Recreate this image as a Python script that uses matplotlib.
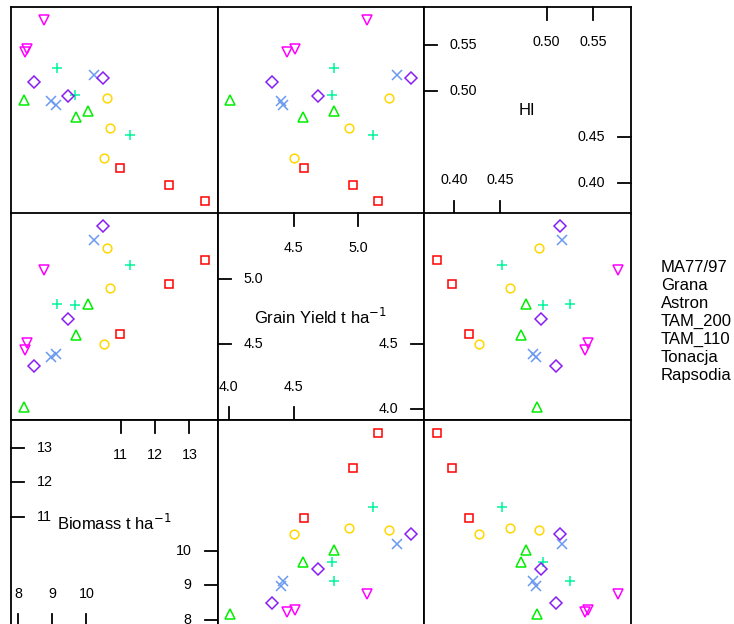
import matplotlib
matplotlib.use("Agg")
import matplotlib.pyplot as plt
import matplotlib.transforms as mtransforms
import numpy as np

plt.rcParams['font.family'] = ['Liberation Sans', 'DejaVu Sans']

cultivars = ["MA77/97", "Grana", "Astron", "TAM_200", "TAM_110", "Tonacja", "Rapsodia"]
colors = ["#FF0000", "#FFD700", "#00F59A", "#6A9AF0", "#8A1EF5", "#00EE00", "#FF00FF"]
markers = ["s", "o", "+", "x", "D", "^", "v"]

biomass = {
    "MA77/97": [13.45, 12.41, 10.97],
    "Grana": [10.61, 10.68, 10.51],
    "Astron": [11.28, 9.13, 9.67],
    "TAM_200": [10.21, 8.98, 9.12],
    "TAM_110": [10.49, 9.47, 8.48],
    "Tonacja": [10.04, 9.69, 8.17],
    "Rapsodia": [8.76, 8.28, 8.22],
}
grain_yield = {
    "MA77/97": [5.15, 4.96, 4.58],
    "Grana": [5.24, 4.93, 4.50],
    "Astron": [5.11, 4.81, 4.80],
    "TAM_200": [5.30, 4.40, 4.42],
    "TAM_110": [5.41, 4.69, 4.33],
    "Tonacja": [4.81, 4.57, 4.01],
    "Rapsodia": [5.07, 4.51, 4.45],
}
hi = {
    "MA77/97": [0.381, 0.398, 0.416],
    "Grana": [0.492, 0.460, 0.427],
    "Astron": [0.452, 0.525, 0.496],
    "TAM_200": [0.517, 0.489, 0.485],
    "TAM_110": [0.514, 0.494, 0.510],
    "Tonacja": [0.478, 0.472, 0.490],
    "Rapsodia": [0.577, 0.545, 0.542],
}

var_names = ["Biomass t ha$^{-1}$", "Grain Yield t ha$^{-1}$", "HI"]
var_data = [biomass, grain_yield, hi]
ticks_low = [["8", "9", "10"], ["4.0", "4.5"], ["0.40", "0.45"]]
ticks_high = [["11", "12", "13"], ["4.5", "5.0"], ["0.50", "0.55"]]

W, H = 734, 624
fig = plt.figure(figsize=(W / 100, H / 100), dpi=100)

left_px, top_px, size_px = 11, 7, 206.5


def limits(d):
    vals = np.concatenate([np.asarray(v) for v in d.values()])
    lo, hi_ = vals.min(), vals.max()
    pad = 0.07 * (hi_ - lo)
    return lo - pad, hi_ + pad


lims = [limits(d) for d in var_data]

for r in range(3):          # r=0 top row
    yv = 2 - r              # top row is HI
    for c in range(3):
        xv = c
        x0 = (left_px + c * size_px) / W
        y0 = 1 - (top_px + (r + 1) * size_px) / H
        ax = fig.add_axes([x0, y0, size_px / W, size_px / H])
        ax.set_xlim(*lims[xv])
        ax.set_ylim(*lims[yv])
        ax.set_xticks([])
        ax.set_yticks([])
        for sp in ax.spines.values():
            sp.set_linewidth(1.3)
        if xv == yv:
            ax.text(0.5, 0.5, var_names[xv], transform=ax.transAxes,
                    ha='center', va='center', fontsize=12)
            tl = 13 / size_px
            off = 26 / size_px
            offt = 28 / size_px
            bx = mtransforms.blended_transform_factory(ax.transData, ax.transAxes)
            by = mtransforms.blended_transform_factory(ax.transAxes, ax.transData)
            fs = 10.3
            for lab in ticks_low[xv]:
                v = float(lab)
                ax.plot([v, v], [0, tl], transform=bx, color='black', lw=1.3, clip_on=False)
                ax.text(v, off, lab, transform=bx, ha='center', va='bottom', fontsize=fs)
                ax.plot([1 - tl, 1], [v, v], transform=by, color='black', lw=1.3, clip_on=False)
                ax.text(1 - off, v, lab, transform=by, ha='right', va='center', fontsize=fs)
            for lab in ticks_high[xv]:
                v = float(lab)
                ax.plot([v, v], [1 - tl, 1], transform=bx, color='black', lw=1.3, clip_on=False)
                ax.text(v, 1 - offt, lab, transform=bx, ha='center', va='top', fontsize=fs)
                ax.plot([0, tl], [v, v], transform=by, color='black', lw=1.3, clip_on=False)
                ax.text(off, v, lab, transform=by, ha='left', va='center', fontsize=fs)
        else:
            for name, col, mk in zip(cultivars, colors, markers):
                ms = 6.3
                if mk in ('+', 'x'):
                    ms = 7.5
                elif mk == 'D':
                    ms = 6.0
                elif mk in ('^', 'v'):
                    ms = 7.0
                ax.plot(var_data[xv][name], var_data[yv][name], linestyle='none',
                        marker=mk, markersize=ms, markerfacecolor='none',
                        markeredgecolor=col, markeredgewidth=1.1, color=col)

for i, name in enumerate(cultivars):
    yb = 271.7 + 18.05 * i
    fig.text(660.7 / W, 1 - yb / H, name, ha='left', va='baseline', fontsize=12)

fig.savefig("out.png", dpi=100)
